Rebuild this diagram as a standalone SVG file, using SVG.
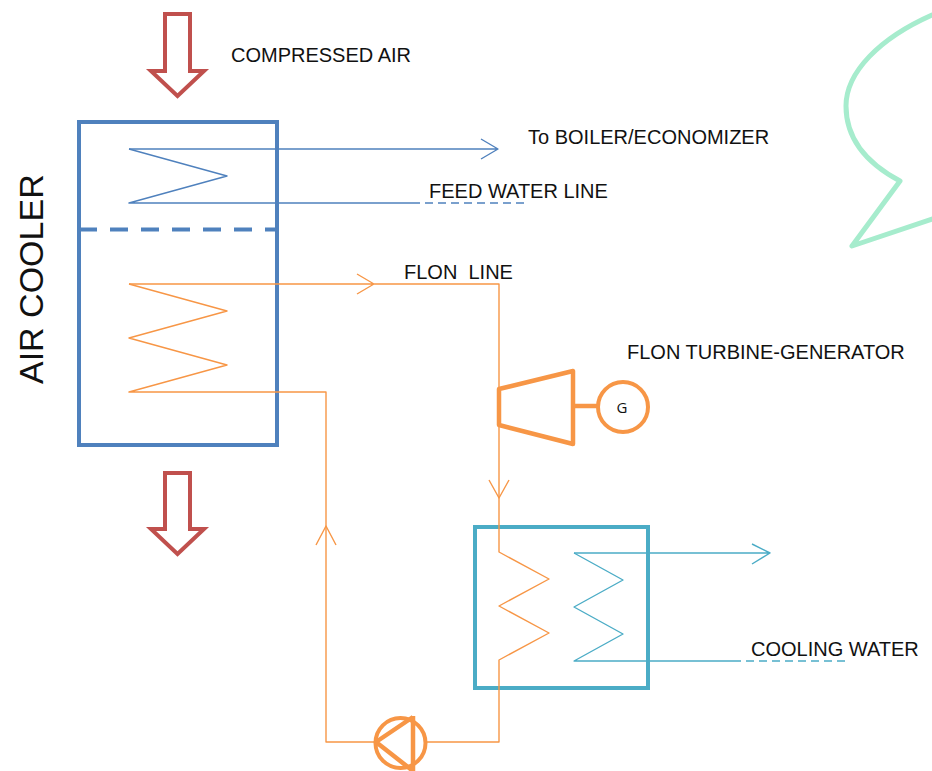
<svg xmlns="http://www.w3.org/2000/svg" width="932" height="771" viewBox="0 0 932 771">
<style>
text{font-family:"Liberation Sans",Arial,sans-serif;fill:#111}
.l{font-size:20px}
.b{fill:none;stroke:#4f81bd}
.o{fill:none;stroke:#f79646}
.t{fill:none;stroke:#4bacc6}
.thin{stroke-width:1.4;stroke-linejoin:round}
.thick{stroke-width:4;stroke-linejoin:round}
.red{fill:#fff;stroke:#c0504d;stroke-width:4;stroke-linejoin:miter}
</style>
<rect width="932" height="771" fill="#fff"/>
<g id="bubble"><path d="M932 15C880 38 846 72 846 106C846 140 868 164 900 181L852 246L932 219" fill="none" stroke="#a6eccd" stroke-width="5" stroke-linejoin="round" stroke-linecap="round"/></g>
<g id="compressed-air-arrow"><polygon class="red" points="165,14 190,14 190,71 204,71 177.500,96 151,71 165,71"/></g>
<g id="exhaust-arrow"><polygon class="red" points="165,473 190,473 190,529 204,529 177.500,554 151,529 165,529"/></g>
<g id="air-cooler"><rect class="b" x="79" y="122" width="198" height="323" stroke-width="4"/><path class="b" d="M79 229.500H277" stroke-width="4" stroke-dasharray="18 13"/></g>
<g id="flon-turbine"><polygon class="o" stroke-width="4.500" stroke-linejoin="round" points="499,389 573,371 573,444 499,425"/><path class="o" d="M573 406H598" stroke-width="4.500"/></g>
<g id="generator"><circle cx="623" cy="407" r="25" fill="#fff" stroke="#f79646" stroke-width="4"/><text x="622" y="413" text-anchor="middle" font-size="15" style="font-family:'Open Sans',sans-serif">G</text></g>
<g id="condenser"><rect class="t" x="475" y="527" width="173" height="161" stroke-width="4"/></g>
<g id="pump"><circle cx="400.500" cy="743" r="25" fill="#fff" stroke="#f79646" stroke-width="4"/><path class="o" d="M413 716V771M413 717L376 742L413 771" stroke-width="4.500" stroke-linejoin="round"/></g>
<g id="connectors">
<path class="b thin" d="M129 149H498M481 139L498 149L481 159"/>
<path class="b thin" d="M129 149L227 176L129 203H412"/>
<path class="b thin" d="M412 203H524" stroke-dasharray="8 5"/>
<path class="o thin" d="M129 284H499V389M357 274L374 284L357 294"/>
<path class="o thin" d="M129 284L227 311L129 338L227 365L129 392H326V742H376"/>
<path class="o thin" d="M316 545L326 526L336 545"/>
<path class="o thin" d="M499 425V552L549 579L499 606L549 633L499 660V742H425"/>
<path class="o thin" d="M489 480L499 498L509 480"/>
<path class="t thin" d="M574 553H770M752 544L770 553L752 564"/>
<path class="t thin" d="M574 553L623 580L574 607L623 634L574 661H733"/>
<path class="t thin" d="M733 661H846" stroke-dasharray="8 5"/>
</g>
<g id="labels">
<text class="l" x="231" y="62">COMPRESSED AIR</text>
<text class="l" x="528" y="144">To BOILER/ECONOMIZER</text>
<text class="l" x="429" y="198">FEED WATER   LINE</text>
<text class="l" x="404" y="279" xml:space="preserve">FLON  LINE</text>
<text class="l" x="627" y="359">FLON TURBINE-GENERATOR</text>
<text class="l" x="751" y="656">COOLING WATER</text>
<text transform="translate(43 384) rotate(-90)" font-size="34">AIR COOLER</text>
</g>
</svg>
